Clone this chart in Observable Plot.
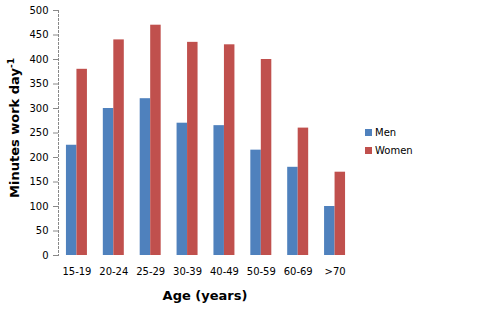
<!DOCTYPE html>
<html>
<head>
<meta charset="utf-8">
<script src="https://cdn.jsdelivr.net/npm/d3@7"></script>
<script src="https://cdn.jsdelivr.net/npm/@observablehq/plot@0.6"></script>
<style>
  body { margin: 0; background: #fff; }
  #wrap { position: relative; width: 480px; height: 323px; overflow: hidden; font-family: "DejaVu Sans", Verdana, sans-serif; }
  #ytitle { position: absolute; left: 14px; top: 128px; transform: translate(-50%, -50%) rotate(-90deg); font-weight: bold; font-size: 13px; white-space: nowrap; color: #000; }
  #xtitle { position: absolute; left: 205px; top: 295px; transform: translate(-50%, -50%); font-weight: bold; font-size: 13px; white-space: nowrap; color: #000; }
  #legend { position: absolute; left: 365px; top: 123px; font-size: 10px; color: #000; }
  .li { display: flex; align-items: center; height: 18px; }
  .sw { width: 7px; height: 7px; margin-right: 3px; }
</style>
</head>
<body>
<div id="wrap">
  <div id="chart"></div>
  <div id="ytitle">Minutes work day<sup style="font-size:9px">-1</sup></div>
  <div id="xtitle">Age (years)</div>
  <div id="legend"></div>
</div>
<script>
const ageGroups = ["15-19", "20-24", "25-29", "30-39", "40-49", "50-59", "60-69", ">70"];
const series = ["Men", "Women"];
const menValues = [225, 300, 320, 270, 265, 215, 180, 100];
const womenValues = [380, 440, 470, 435, 430, 400, 260, 170];
const colors = ["#4F81BD", "#C0504D"];
const yTicks = [0, 50, 100, 150, 200, 250, 300, 350, 400, 450, 500];

const data = [];
ageGroups.forEach((a, i) => {
  data.push({age: a, sex: "Men", value: menValues[i]});
  data.push({age: a, sex: "Women", value: womenValues[i]});
});

const plot = Plot.plot({
  width: 480,
  height: 323,
  marginLeft: 58,
  marginRight: 127,
  marginTop: 10,
  marginBottom: 68,
  style: {fontFamily: "DejaVu Sans, Verdana, sans-serif", fontSize: "10px", color: "#000", background: "#fff"},
  fx: {domain: ageGroups, padding: 0, round: false, axis: "bottom", tickSize: 0, tickPadding: 12, label: null},
  x: {domain: series, paddingInner: 0, paddingOuter: 0.757, round: false, axis: null},
  y: {domain: [0, 500], ticks: yTicks, axis: null},
  color: {domain: series, range: colors},
  marks: [
    Plot.barY(data, {fx: "age", x: "sex", y: "value", fill: "sex"}),
    Plot.axisY({ticks: yTicks, tickSize: 5, tickPadding: 5, stroke: "#888", facetAnchor: "left", label: null}),
    Plot.frame({anchor: "left", facetAnchor: "left", stroke: "#888", strokeDasharray: "2,2"})
  ]
});
document.getElementById("chart").appendChild(plot);

const legend = document.getElementById("legend");
series.forEach((s, i) => {
  const row = document.createElement("div");
  row.className = "li";
  const sw = document.createElement("span");
  sw.className = "sw";
  sw.style.background = colors[i];
  const t = document.createElement("span");
  t.textContent = s;
  row.appendChild(sw);
  row.appendChild(t);
  legend.appendChild(row);
});
</script>
</body>
</html>
